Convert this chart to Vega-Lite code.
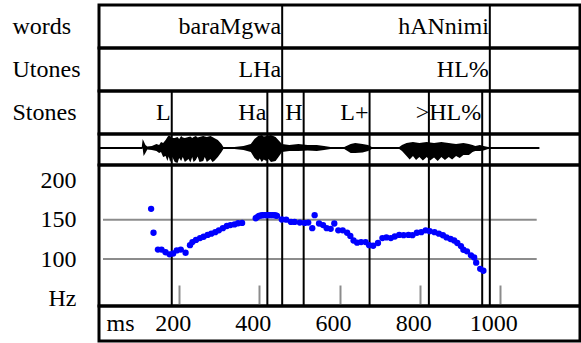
{
  "$schema": "https://vega.github.io/schema/vega-lite/v6.json",
  "padding": {"left": 10, "top": 2, "right": 1, "bottom": 1},
  "spacing": 0,
  "bounds": "flush",
  "config": {
    "font": "Liberation Serif",
    "view": {"stroke": "black", "strokeWidth": 3},
    "axis": {"labelFont": "Liberation Serif", "labelFontSize": 24, "labelColor": "black", "ticks": false, "domain": false, "grid": false}
  },
  "datasets": {
    "words": [
      {"tier": "words", "label": "baraMgwa", "ms": 457},
      {"tier": "words", "label": "hANnimi", "ms": 975}
    ],
    "utones": [
      {"tier": "Utones", "label": "LHa", "ms": 457},
      {"tier": "Utones", "label": "HL%", "ms": 975}
    ],
    "stones": [
      {"tier": "Stones", "label": "L", "ms": 181.5},
      {"tier": "Stones", "label": "Ha", "ms": 420},
      {"tier": "Stones", "label": "H", "ms": 510.6},
      {"tier": "Stones", "label": "L+", "ms": 675},
      {"tier": "Stones", "label": ">HL%", "ms": 956}
    ],
    "bounds": [
      {"ms": 181.5}, {"ms": 420}, {"ms": 457}, {"ms": 510.6},
      {"ms": 675}, {"ms": 823}, {"ms": 956}, {"ms": 975}
    ],
    "wave": [
      {"ms": 2, "hi": 0.5, "lo": -1.5},
      {"ms": 106.7, "hi": 0.5, "lo": -1.5},
      {"ms": 109, "hi": 8.5, "lo": -1},
      {"ms": 111.3, "hi": 6.5, "lo": -8.5},
      {"ms": 115.9, "hi": 2.5, "lo": -5.5},
      {"ms": 120.5, "hi": 1, "lo": -2},
      {"ms": 131.9, "hi": 1.5, "lo": -2.5},
      {"ms": 143.3, "hi": 3.5, "lo": -3.5},
      {"ms": 150, "hi": 2.5, "lo": -5.5},
      {"ms": 154.7, "hi": 5.5, "lo": -4.5},
      {"ms": 160, "hi": 4.5, "lo": -9.5},
      {"ms": 166.2, "hi": 7.5, "lo": -8.5},
      {"ms": 170.7, "hi": 10.5, "lo": -13.5},
      {"ms": 174, "hi": 12, "lo": -9},
      {"ms": 177.6, "hi": 11.5, "lo": -14.5},
      {"ms": 183, "hi": 9.5, "lo": -9.5},
      {"ms": 189, "hi": 9.5, "lo": -14.5},
      {"ms": 195.9, "hi": 10.5, "lo": -15.5},
      {"ms": 200, "hi": 8.5, "lo": -10.5},
      {"ms": 205, "hi": 11.5, "lo": -13.5},
      {"ms": 209, "hi": 10, "lo": -9.5},
      {"ms": 214.2, "hi": 9.5, "lo": -14.5},
      {"ms": 223.3, "hi": 10.5, "lo": -11.5},
      {"ms": 228, "hi": 11, "lo": -15},
      {"ms": 232.5, "hi": 9.5, "lo": -9.5},
      {"ms": 236, "hi": 10.5, "lo": -14.5},
      {"ms": 241.6, "hi": 11.5, "lo": -12.5},
      {"ms": 246, "hi": 10, "lo": -9},
      {"ms": 250.7, "hi": 10.5, "lo": -14.5},
      {"ms": 259.9, "hi": 11.5, "lo": -13.5},
      {"ms": 264, "hi": 11, "lo": -9.5},
      {"ms": 269, "hi": 10.5, "lo": -14.5},
      {"ms": 278.2, "hi": 11.5, "lo": -11.5},
      {"ms": 283, "hi": 10.5, "lo": -14.5},
      {"ms": 287.3, "hi": 9.5, "lo": -13.5},
      {"ms": 296.5, "hi": 7.5, "lo": -9.5},
      {"ms": 305.6, "hi": 3.5, "lo": -4.5},
      {"ms": 310.2, "hi": 0.5, "lo": -1.5},
      {"ms": 337.6, "hi": 0.5, "lo": -1.5},
      {"ms": 360.5, "hi": 1.5, "lo": -2.5},
      {"ms": 378.7, "hi": 3.5, "lo": -4.5},
      {"ms": 387.9, "hi": 8.5, "lo": -10.5},
      {"ms": 397, "hi": 11.5, "lo": -13.5},
      {"ms": 401, "hi": 12, "lo": -11},
      {"ms": 406.2, "hi": 12.5, "lo": -14.5},
      {"ms": 411, "hi": 11, "lo": -12},
      {"ms": 417.6, "hi": 11.5, "lo": -13.5},
      {"ms": 423, "hi": 12, "lo": -11.5},
      {"ms": 429, "hi": 12.5, "lo": -14.5},
      {"ms": 440.5, "hi": 10.5, "lo": -13.5},
      {"ms": 449.6, "hi": 6.5, "lo": -8.5},
      {"ms": 456.5, "hi": 3.5, "lo": -4.5},
      {"ms": 474.7, "hi": 2.5, "lo": -3.5},
      {"ms": 497.6, "hi": 3.5, "lo": -3.5},
      {"ms": 520.5, "hi": 2.5, "lo": -3},
      {"ms": 543.3, "hi": 2.5, "lo": -3.5},
      {"ms": 561.6, "hi": 1.5, "lo": -2.5},
      {"ms": 577.6, "hi": 0.5, "lo": -1.5},
      {"ms": 611.9, "hi": 0.5, "lo": -1.5},
      {"ms": 627.9, "hi": 3.5, "lo": -5.5},
      {"ms": 639.3, "hi": 4.5, "lo": -5.5},
      {"ms": 657.6, "hi": 3.5, "lo": -5},
      {"ms": 671.3, "hi": 2.5, "lo": -3.5},
      {"ms": 680.5, "hi": 0.5, "lo": -1.5},
      {"ms": 749, "hi": 0.5, "lo": -1.5},
      {"ms": 755.9, "hi": 2.5, "lo": -3.5},
      {"ms": 767.3, "hi": 4.5, "lo": -8.5},
      {"ms": 775, "hi": 5, "lo": -12},
      {"ms": 783.3, "hi": 5.5, "lo": -8.5},
      {"ms": 791, "hi": 5, "lo": -12.5},
      {"ms": 799.3, "hi": 4.5, "lo": -9.5},
      {"ms": 808, "hi": 5, "lo": -13},
      {"ms": 817.6, "hi": 5.5, "lo": -9.5},
      {"ms": 826, "hi": 5, "lo": -13},
      {"ms": 835.9, "hi": 4.5, "lo": -10},
      {"ms": 845, "hi": 5, "lo": -13.5},
      {"ms": 854.2, "hi": 5.5, "lo": -9.5},
      {"ms": 863, "hi": 5, "lo": -12.5},
      {"ms": 872.5, "hi": 4.5, "lo": -9.5},
      {"ms": 881, "hi": 4, "lo": -12},
      {"ms": 890.8, "hi": 3.5, "lo": -8.5},
      {"ms": 900, "hi": 4, "lo": -10.5},
      {"ms": 909.1, "hi": 4.5, "lo": -7.5},
      {"ms": 922.8, "hi": 3.5, "lo": -7.5},
      {"ms": 932, "hi": 2.5, "lo": -4.5},
      {"ms": 938.8, "hi": 1.5, "lo": -3.5},
      {"ms": 950.3, "hi": 2.5, "lo": -3.5},
      {"ms": 959.4, "hi": 1.5, "lo": -3},
      {"ms": 970.9, "hi": 0.5, "lo": -1.5},
      {"ms": 1098.7, "hi": 0.5, "lo": -1.5}
    ],
    "grid": [
      {"hz": 100, "from": 10, "to": 1092},
      {"hz": 150, "from": 10, "to": 1092}
    ],
    "f0": [
      {"ms": 130, "hz": 164}, {"ms": 136, "hz": 133.5}, {"ms": 147, "hz": 112}, {"ms": 156, "hz": 112},
      {"ms": 166, "hz": 108.6}, {"ms": 176, "hz": 106}, {"ms": 185, "hz": 107}, {"ms": 194, "hz": 111},
      {"ms": 204, "hz": 112}, {"ms": 216, "hz": 108}, {"ms": 227, "hz": 117.7}, {"ms": 233, "hz": 121.6},
      {"ms": 242, "hz": 124.4}, {"ms": 252, "hz": 126.7}, {"ms": 261, "hz": 128.4}, {"ms": 271, "hz": 130.7},
      {"ms": 280, "hz": 132.3}, {"ms": 290, "hz": 134.3}, {"ms": 299, "hz": 136.6}, {"ms": 309, "hz": 139.4},
      {"ms": 319, "hz": 142.1}, {"ms": 328, "hz": 143.3}, {"ms": 338, "hz": 144.1}, {"ms": 347, "hz": 145.6},
      {"ms": 357, "hz": 146.1}, {"ms": 391, "hz": 152}, {"ms": 395, "hz": 153.5}, {"ms": 399, "hz": 155.1},
      {"ms": 404, "hz": 155.5}, {"ms": 408, "hz": 155.9}, {"ms": 413, "hz": 156}, {"ms": 418, "hz": 155.9},
      {"ms": 422, "hz": 156}, {"ms": 427, "hz": 155.9}, {"ms": 432, "hz": 156}, {"ms": 437, "hz": 155.9},
      {"ms": 441, "hz": 155.5}, {"ms": 444, "hz": 155.1}, {"ms": 456, "hz": 150.4}, {"ms": 467, "hz": 150.2},
      {"ms": 479, "hz": 147.3}, {"ms": 488, "hz": 147.3}, {"ms": 501, "hz": 146.5}, {"ms": 513, "hz": 146.1},
      {"ms": 522, "hz": 146.5}, {"ms": 532, "hz": 139.4}, {"ms": 538, "hz": 155.9}, {"ms": 549, "hz": 145.3},
      {"ms": 559, "hz": 143.3}, {"ms": 568, "hz": 139.4}, {"ms": 578, "hz": 138.5}, {"ms": 587, "hz": 145.3},
      {"ms": 597, "hz": 136.6}, {"ms": 608, "hz": 136.6}, {"ms": 619, "hz": 133.5}, {"ms": 627, "hz": 129.5},
      {"ms": 635, "hz": 123.6}, {"ms": 644, "hz": 120.8}, {"ms": 654, "hz": 121.6}, {"ms": 665, "hz": 121.6},
      {"ms": 674, "hz": 117.7}, {"ms": 684, "hz": 116.9}, {"ms": 696, "hz": 120.4}, {"ms": 707, "hz": 126.7},
      {"ms": 717, "hz": 127.5}, {"ms": 728, "hz": 126.7}, {"ms": 738, "hz": 128.7}, {"ms": 749, "hz": 130.7},
      {"ms": 760, "hz": 130.4}, {"ms": 772, "hz": 130.7}, {"ms": 782, "hz": 130.4}, {"ms": 793, "hz": 133.5},
      {"ms": 804, "hz": 134.3}, {"ms": 815, "hz": 136.6}, {"ms": 825, "hz": 135.5}, {"ms": 837, "hz": 134.3},
      {"ms": 848, "hz": 132.3}, {"ms": 858, "hz": 130.3}, {"ms": 867, "hz": 127.5}, {"ms": 877, "hz": 125.5},
      {"ms": 886, "hz": 123.6}, {"ms": 894, "hz": 120.4}, {"ms": 903, "hz": 116.5}, {"ms": 909, "hz": 111.8},
      {"ms": 918, "hz": 109.8}, {"ms": 928, "hz": 104.7}, {"ms": 936, "hz": 101.9}, {"ms": 941, "hz": 95.3},
      {"ms": 951, "hz": 87.4}, {"ms": 959, "hz": 85}
    ],
    "ticks": [
      {"ms": 200, "label": "200"}, {"ms": 400, "label": "400"}, {"ms": 600, "label": "600"},
      {"ms": 800, "label": "800"}, {"ms": 1000, "label": "1000"}
    ],
    "unit": [{"ms": 19, "label": "ms"}]
  },
  "vconcat": [
    {
      "width": 481, "height": 43,
      "data": {"name": "words"},
      "layer": [
        {"mark": {"type": "text", "align": "right", "dx": -1, "font": "Liberation Serif", "fontSize": 24, "color": "black"},
         "encoding": {
           "x": {"field": "ms", "type": "quantitative", "scale": {"domain": [10, 1110]}, "axis": null},
           "y": {"field": "tier", "type": "nominal", "axis": {"labelAlign": "left", "labelPadding": 87, "labelFont": "Liberation Serif", "labelFontSize": 24, "title": null}},
           "text": {"field": "label"}}},
        {"mark": {"type": "rule", "strokeWidth": 2, "color": "black"},
         "encoding": {"x": {"field": "ms", "type": "quantitative"}}}
      ]
    },
    {
      "width": 481, "height": 43,
      "data": {"name": "utones"},
      "layer": [
        {"mark": {"type": "text", "align": "right", "dx": -1, "font": "Liberation Serif", "fontSize": 24, "color": "black"},
         "encoding": {
           "x": {"field": "ms", "type": "quantitative", "scale": {"domain": [10, 1110]}, "axis": null},
           "y": {"field": "tier", "type": "nominal", "axis": {"labelAlign": "left", "labelPadding": 87, "labelFont": "Liberation Serif", "labelFontSize": 24, "title": null}},
           "text": {"field": "label"}}},
        {"mark": {"type": "rule", "strokeWidth": 2, "color": "black"},
         "encoding": {"x": {"field": "ms", "type": "quantitative"}}}
      ]
    },
    {
      "width": 481, "height": 43,
      "layer": [
        {"data": {"name": "stones"},
         "mark": {"type": "text", "align": "right", "dx": -1, "font": "Liberation Serif", "fontSize": 24, "color": "black"},
         "encoding": {
           "x": {"field": "ms", "type": "quantitative", "scale": {"domain": [10, 1110]}, "axis": null},
           "y": {"field": "tier", "type": "nominal", "axis": {"labelAlign": "left", "labelPadding": 87, "labelFont": "Liberation Serif", "labelFontSize": 24, "title": null}},
           "text": {"field": "label"}}},
        {"data": {"name": "bounds"},
         "mark": {"type": "rule", "strokeWidth": 2, "color": "black"},
         "encoding": {"x": {"field": "ms", "type": "quantitative"}}}
      ]
    },
    {
      "width": 481, "height": 31,
      "layer": [
        {"data": {"name": "wave"},
         "mark": {"type": "area", "color": "black", "opacity": 1},
         "encoding": {
           "x": {"field": "ms", "type": "quantitative", "scale": {"domain": [10, 1110]}, "axis": null},
           "y": {"field": "hi", "type": "quantitative", "scale": {"domain": [-17.5, 13.5]}, "axis": null},
           "y2": {"field": "lo"}}},
        {"data": {"name": "bounds"},
         "mark": {"type": "rule", "strokeWidth": 2, "color": "black"},
         "encoding": {"x": {"field": "ms", "type": "quantitative"}}}
      ]
    },
    {
      "width": 481, "height": 141,
      "layer": [
        {"data": {"name": "grid"},
         "mark": {"type": "rule", "color": "#8c8c8c", "strokeWidth": 2},
         "encoding": {
           "y": {"field": "hz", "type": "quantitative", "scale": {"domain": [50, 217]},
                 "axis": {"values": [50, 100, 150, 200], "labelExpr": "datum.value == 50 ? 'Hz' : datum.label", "labelPadding": 23, "labelFont": "Liberation Serif", "labelFontSize": 24, "title": null}},
           "x": {"field": "from", "type": "quantitative", "scale": {"domain": [10, 1110]},
                 "axis": {"values": [200, 400, 600, 800, 1000], "ticks": true, "tickSize": -21, "tickColor": "#8c8c8c", "tickWidth": 2, "labels": false, "domain": false, "title": null}},
           "x2": {"field": "to"}}},
        {"data": {"name": "bounds"},
         "mark": {"type": "rule", "strokeWidth": 2, "color": "black"},
         "encoding": {"x": {"field": "ms", "type": "quantitative"}}},
        {"data": {"name": "f0"},
         "mark": {"type": "circle", "color": "#0000ff", "size": 40, "opacity": 1},
         "encoding": {
           "x": {"field": "ms", "type": "quantitative"},
           "y": {"field": "hz", "type": "quantitative"}}}
      ]
    },
    {
      "width": 481, "height": 35,
      "layer": [
        {"data": {"name": "ticks"},
         "mark": {"type": "text", "align": "center", "dx": -6, "font": "Liberation Serif", "fontSize": 24, "color": "black"},
         "encoding": {
           "x": {"field": "ms", "type": "quantitative", "scale": {"domain": [10, 1110]}, "axis": null},
           "text": {"field": "label"}}},
        {"data": {"name": "unit"},
         "mark": {"type": "text", "align": "left", "font": "Liberation Serif", "fontSize": 24, "color": "black"},
         "encoding": {
           "x": {"field": "ms", "type": "quantitative"},
           "text": {"field": "label"}}}
      ]
    }
  ]
}
